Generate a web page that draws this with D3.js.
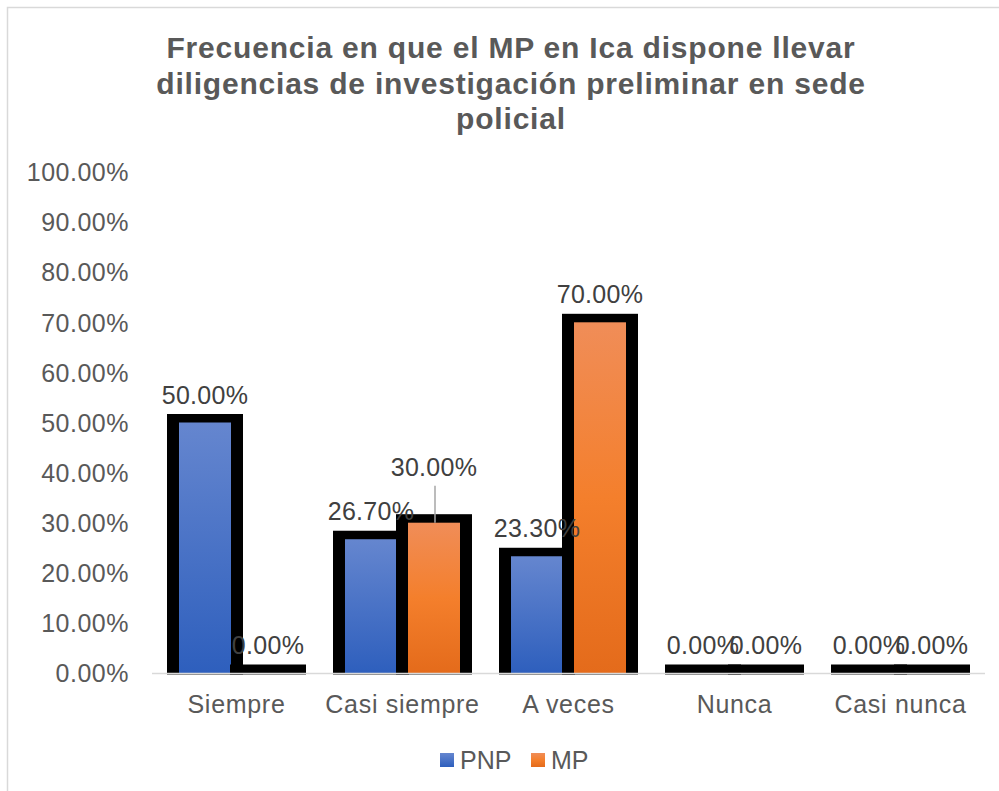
<!DOCTYPE html>
<html>
<head>
<meta charset="utf-8">
<script src="https://cdn.jsdelivr.net/npm/d3@7"></script>
<style>
  body { margin: 0; background: #fff; }
  text { font-family: "Liberation Sans", Arial, sans-serif; }
</style>
</head>
<body>
<div id="chart"></div>
<script>
var width = 999,
    height = 791;

var categories = ["Siempre", "Casi siempre", "A veces", "Nunca", "Casi nunca"];
var seriesNames = ["PNP", "MP"];
var pnpValues = [50.0, 26.7, 23.3, 0.0, 0.0];
var mpValues = [0.0, 30.0, 70.0, 0.0, 0.0];
var yTicks = [0, 10, 20, 30, 40, 50, 60, 70, 80, 90, 100];
var titleLines = [
  "Frecuencia en que el MP en Ica dispone llevar",
  "diligencias de investigación preliminar en sede",
  "policial"
];

var plot = {left: 153.5, right: 983.5, top: 172, bottom: 673};

var svg = d3.select("#chart").append("svg")
  .attr("width", width)
  .attr("height", height);

// gradients like the excel fill
var defs = svg.append("defs");
var grads = [
  {id: "gPNP", stops: [["0%", "#6586cf"], ["100%", "#2e5fbd"]]},
  {id: "gMP", stops: [["0%", "#f08d58"], ["50%", "#f47f2c"], ["100%", "#e46b1b"]]}
];
grads.forEach(function(g) {
  var lg = defs.append("linearGradient")
    .attr("id", g.id)
    .attr("x1", 0).attr("y1", 0).attr("x2", 0).attr("y2", 1);
  g.stops.forEach(function(s) {
    lg.append("stop").attr("offset", s[0]).attr("stop-color", s[1]);
  });
});

// chart border
svg.append("rect")
  .attr("x", 7.5).attr("y", 7.5)
  .attr("width", width + 20).attr("height", height + 20)
  .style("fill", "none")
  .style("stroke", "#d9d9d9")
  .style("stroke-width", 1.5);

var x0 = d3.scaleBand()
  .domain(categories)
  .range([plot.left, plot.right])
  .paddingInner(0.241)
  .paddingOuter(0.1205);

var x1 = d3.scaleBand()
  .domain(seriesNames)
  .range([0, x0.bandwidth()]);

var y = d3.scaleLinear()
  .domain([0, 100])
  .range([plot.bottom, plot.top]);

var fmt = function(v) { return v.toFixed(2) + "%"; };

// title
svg.append("g").selectAll("text")
  .data(titleLines)
  .enter().append("text")
  .attr("x", 511)
  .attr("y", function(d, i) { return 58 + i * 35.5; })
  .attr("text-anchor", "middle")
  .style("font-size", "30px")
  .style("letter-spacing", "0.8px")
  .style("font-weight", "bold")
  .style("fill", "#595959")
  .text(function(d) { return d; });

// y axis labels (no gridlines)
var yAxis = d3.axisLeft(y)
  .tickValues(yTicks)
  .tickSize(0)
  .tickPadding(0)
  .tickFormat(fmt);

var gy = svg.append("g")
  .attr("transform", "translate(129,0)")
  .call(yAxis);
gy.select(".domain").remove();
gy.selectAll("text")
  .attr("dy", "0.35em")
  .style("font-size", "25px")
  .style("letter-spacing", "0.5px")
  .style("font-family", "'Liberation Sans', Arial, sans-serif")
  .style("fill", "#595959");

var data = categories.map(function(c, i) {
  return {cat: c, vals: [
    {name: "PNP", v: pnpValues[i]},
    {name: "MP", v: mpValues[i]}
  ]};
});

var inset = 5.5, strokeW = 12, topOut = 8.5;

var groups = svg.append("g").selectAll("g")
  .data(data)
  .enter().append("g")
  .attr("transform", function(d) { return "translate(" + x0(d.cat) + ",0)"; });

groups.each(function(d) {
  var g = d3.select(this);
  d.vals.forEach(function(s) {
    var fx = x1(s.name) + inset,
        fw = x1.bandwidth() - 2 * inset;
    // thick black outline
    g.append("rect")
      .attr("x", fx - strokeW)
      .attr("y", y(s.v) - topOut)
      .attr("width", fw + 2 * strokeW)
      .attr("height", y(0) - y(s.v) + topOut + 1.5)
      .style("fill", "#000");
    if (s.v > 0) {
      g.append("rect")
        .attr("x", fx)
        .attr("y", y(s.v))
        .attr("width", fw)
        .attr("height", y(0) - y(s.v))
        .style("fill", s.name == "PNP" ? "url(#gPNP)" : "url(#gMP)");
    }
  });
});

// baseline
svg.append("line")
  .attr("x1", 152).attr("x2", 985)
  .attr("y1", plot.bottom + 0.5).attr("y2", plot.bottom + 0.5)
  .style("stroke", "#d9d9d9")
  .style("stroke-width", 1.5);

// data labels
groups.each(function(d) {
  var g = d3.select(this);
  d.vals.forEach(function(s) {
    var cx = x1(s.name) + x1.bandwidth() / 2;
    var ly = y(s.v) - 19;
    // the MP "Casi siempre" label was pulled up with a leader line
    if (d.cat == "Casi siempre" && s.name == "MP") {
      ly = y(s.v) - 47;
      g.append("line")
        .attr("x1", cx + 1).attr("x2", cx + 1)
        .attr("y1", ly + 10).attr("y2", y(s.v))
        .style("stroke", "#a6a6a6")
        .style("stroke-width", 1.5);
    }
    g.append("text")
      .attr("x", cx)
      .attr("y", ly)
      .attr("text-anchor", "middle")
      .style("font-size", "25px")
      .style("letter-spacing", "0.3px")
      .style("fill", "#404040")
      .text(fmt(s.v));
  });
});

// category labels
var xAxis = d3.axisBottom(x0).tickSize(0).tickPadding(0);
var gx = svg.append("g")
  .attr("transform", "translate(0," + 713 + ")")
  .call(xAxis);
gx.select(".domain").remove();
gx.selectAll("text")
  .attr("dy", 0)
  .style("font-size", "25px")
  .style("letter-spacing", "0.7px")
  .style("font-family", "'Liberation Sans', Arial, sans-serif")
  .style("fill", "#595959");

// legend
var legendItems = [
  {name: "PNP", fill: "url(#gPNP)", x: 440},
  {name: "MP", fill: "url(#gMP)", x: 531}
];
var lg = svg.append("g").selectAll("g")
  .data(legendItems)
  .enter().append("g")
  .attr("transform", function(d) { return "translate(" + d.x + ",753)"; });
lg.append("rect")
  .attr("width", 14).attr("height", 14)
  .style("fill", function(d) { return d.fill; });
lg.append("text")
  .attr("x", 20)
  .attr("y", 16)
  .style("font-size", "25px")
  .style("fill", "#595959")
  .text(function(d) { return d.name; });
</script>
</body>
</html>
